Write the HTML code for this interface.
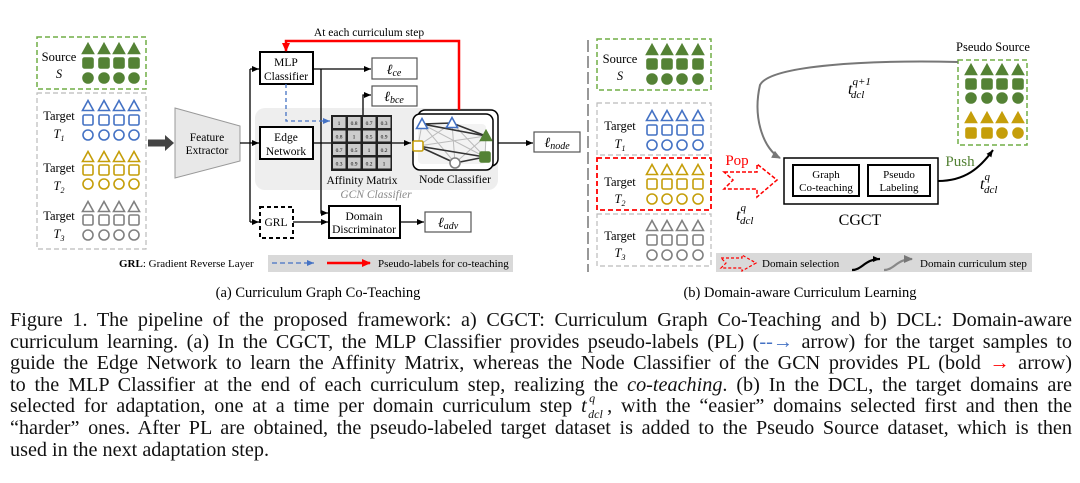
<!DOCTYPE html>
<html><head><meta charset="utf-8"><style>
body{margin:0;background:#fff;width:1080px;height:483px;overflow:hidden;position:relative}
svg{position:absolute;left:0;top:0}
.cap{position:absolute;left:10px;width:1062px;font-family:"Liberation Serif",serif;font-size:20.2px;color:#111;line-height:21.6px;top:310px}
.cap div{text-align:justify;text-align-last:justify;white-space:nowrap;height:21.6px;overflow:visible}
.cap div.last{text-align-last:left}
.tq{display:inline-block;position:relative;width:26px;height:10px;font-style:italic}
.tq b{font-weight:normal;position:absolute;left:0;top:-6px}
.tq i{position:absolute;left:8px;top:-14px;font-size:12px}
.tq u{text-decoration:none;position:absolute;left:7px;top:2px;font-size:12px}
</style></head><body>
<svg id="s" width="1080" height="310" font-family="Liberation Serif, serif">
<defs>
<marker id="a" markerWidth="8" markerHeight="8" refX="7" refY="4" orient="auto" markerUnits="userSpaceOnUse"><path d="M0,1 L7,4 L0,7z" fill="#000"/></marker>
<marker id="ab" markerWidth="8" markerHeight="8" refX="7" refY="4" orient="auto" markerUnits="userSpaceOnUse"><path d="M0,1 L7,4 L0,7z" fill="#4472c4"/></marker>
<marker id="ar" markerWidth="10" markerHeight="10" refX="8" refY="5" orient="auto" markerUnits="userSpaceOnUse"><path d="M0,1 L9,5 L0,9z" fill="#f00"/></marker>
<marker id="ag" markerWidth="10" markerHeight="10" refX="8" refY="5" orient="auto" markerUnits="userSpaceOnUse"><path d="M0,1 L9,5 L0,9z" fill="#777"/></marker>
</defs>
<g id="g"></g>
<rect x="37" y="37" width="109" height="52" fill="none" stroke="#70ad47" stroke-width="1.5" stroke-dasharray="5,3"/>
<rect x="37" y="93" width="109" height="156" fill="none" stroke="#bbb" stroke-width="1.2" stroke-dasharray="5,3"/>
<g font-size="12.5" text-anchor="middle">
<text x="59" y="61">Source</text><text x="59" y="78" font-style="italic">S</text>
<text x="59" y="120">Target</text><text x="59" y="138" font-style="italic">T<tspan font-size="8" dy="3">1</tspan></text>
<text x="59" y="172">Target</text><text x="59" y="190" font-style="italic">T<tspan font-size="8" dy="3">2</tspan></text>
<text x="59" y="220">Target</text><text x="59" y="238" font-style="italic">T<tspan font-size="8" dy="3">3</tspan></text>
</g>
<path d="M148,143 H166" stroke="#444" stroke-width="7"/><path d="M165,135 L174,143 L165,151z" fill="#444"/>
<path d="M175,108 L240,126 L240,161 L175,178z" fill="#e8e8e8" stroke="#999"/>
<text x="207" y="141" font-size="11.5" text-anchor="middle">Feature</text>
<text x="207" y="154" font-size="11.5" text-anchor="middle">Extractor</text>
<rect x="255" y="108" width="243" height="82" rx="10" fill="#eee"/>
<g stroke="#000" stroke-width="1.3" fill="none">
<path d="M240,143 H250 M250,69 V222"/>
<path d="M250,69 H259" marker-end="url(#a)"/><path d="M250,143 H259" marker-end="url(#a)"/><path d="M250,222 H259" marker-end="url(#a)"/>
<path d="M313,69 H371" marker-end="url(#a)"/>
<path d="M321,69 V213 H328" marker-end="url(#a)"/>
<path d="M363,118 V95 H371" marker-end="url(#a)"/>
<path d="M313,143 H331"/>
<path d="M392,143 H411" marker-end="url(#a)"/>
<path d="M497,143 H533" marker-end="url(#a)"/>
<path d="M293,222 H328" marker-end="url(#a)"/>
<path d="M400,222 H424" marker-end="url(#a)"/>
</g>
<g fill="#fff" stroke="#000" stroke-width="2">
<rect x="260" y="52" width="53" height="32"/>
<rect x="260" y="127" width="53" height="32"/>
<rect x="329" y="206" width="71" height="32"/>
</g>
<rect x="260" y="207" width="33" height="31" fill="#fff" stroke="#000" stroke-width="2" stroke-dasharray="4,3"/>
<g fill="#fff" stroke="#555" stroke-width="1.2">
<rect x="372" y="58" width="45" height="21"/><rect x="372" y="86" width="45" height="20"/>
<rect x="425" y="212" width="46" height="20"/><rect x="534" y="132" width="46" height="20"/>
</g>
<g font-size="11.5" text-anchor="middle">
<text x="286" y="66">MLP</text><text x="286" y="80">Classifier</text>
<text x="286" y="141">Edge</text><text x="286" y="155">Network</text>
<text x="276" y="226">GRL</text>
<text x="364" y="220">Domain</text><text x="364" y="233">Discriminator</text>
<text x="369" y="36">At each curriculum step</text>
<text x="362" y="184">Affinity Matrix</text><text x="455" y="183">Node Classifier</text>
<text x="376" y="198" font-style="italic" fill="#888">GCN Classifier</text>
</g>
<g font-size="14" font-style="italic" text-anchor="middle">
<text x="394" y="74">ℓ<tspan font-size="10" dy="2">ce</tspan></text>
<text x="394" y="101">ℓ<tspan font-size="10" dy="2">bce</tspan></text>
<text x="448" y="227">ℓ<tspan font-size="10" dy="2">adv</tspan></text>
<text x="557" y="147">ℓ<tspan font-size="10" dy="2">node</tspan></text>
</g>
<g id="mat"></g>
<path d="M286,84 V121 H330" stroke="#4472c4" stroke-width="1.3" fill="none" stroke-dasharray="4,3" marker-end="url(#ab)"/>
<rect x="418" y="110" width="80" height="56" rx="7" fill="#fff" stroke="#000" stroke-width="1.5"/>
<rect x="413" y="114" width="80" height="56" rx="7" fill="#fff" stroke="#000" stroke-width="1.5"/>
<rect x="418" y="124" width="68" height="40" rx="4" fill="#f3f3f3"/>
<g stroke="#999" stroke-width="1" id="edges"></g>
<g id="nodes"></g>
<path d="M459,110 V41 H286 V51" stroke="#f00" stroke-width="2.5" fill="none" marker-end="url(#ar)"/>
<text x="119" y="267" font-size="11"><tspan font-weight="bold">GRL</tspan>: Gradient Reverse Layer</text>
<rect x="268" y="255" width="245" height="17" fill="#d9d9d9"/>
<path d="M272,263 H314" stroke="#4472c4" stroke-width="1.3" stroke-dasharray="5,3" marker-end="url(#ab)"/>
<path d="M327,263 H370" stroke="#f00" stroke-width="2.5" marker-end="url(#ar)"/>
<text x="378" y="267" font-size="11">Pseudo-labels for co-teaching</text>
<text x="318" y="297" font-size="14.5" text-anchor="middle">(a) Curriculum Graph Co-Teaching</text>
<path d="M588,40 V272" stroke="#777" stroke-width="1.5" stroke-dasharray="12,4"/>
<rect x="597" y="39" width="114" height="51" fill="none" stroke="#70ad47" stroke-width="1.5" stroke-dasharray="5,3"/>
<rect x="597" y="103" width="114" height="52" fill="none" stroke="#bbb" stroke-width="1.2" stroke-dasharray="5,3"/>
<rect x="597" y="158" width="114" height="52" fill="none" stroke="#f00" stroke-width="1.8" stroke-dasharray="5,3"/>
<rect x="597" y="214" width="114" height="52" fill="none" stroke="#bbb" stroke-width="1.2" stroke-dasharray="5,3"/>
<rect x="958" y="60" width="69" height="85" fill="none" stroke="#70ad47" stroke-width="1.5" stroke-dasharray="5,3"/>
<g font-size="12.5" text-anchor="middle">
<text x="620" y="63">Source</text><text x="620" y="80" font-style="italic">S</text>
<text x="620" y="130">Target</text><text x="620" y="148" font-style="italic">T<tspan font-size="8" dy="3">1</tspan></text>
<text x="620" y="186">Target</text><text x="620" y="203" font-style="italic">T<tspan font-size="8" dy="3">2</tspan></text>
<text x="620" y="240">Target</text><text x="620" y="257" font-style="italic">T<tspan font-size="8" dy="3">3</tspan></text>
<text x="993" y="51">Pseudo Source</text>
</g>
<path d="M724,172 H757 V164 L777,180 L757,197 V189 H724 L733,180z" fill="none" stroke="#f00" stroke-width="1.5" stroke-dasharray="4,2"/>
<text x="737" y="165" font-size="15" fill="#f00" text-anchor="middle">Pop</text>
<text x="960" y="166" font-size="15" fill="#548235" text-anchor="middle">Push</text>
<rect x="784" y="158" width="154" height="46" fill="#fff" stroke="#000" stroke-width="1.5"/>
<rect x="793" y="165" width="66" height="31" fill="none" stroke="#000" stroke-width="2"/>
<rect x="868" y="165" width="62" height="31" fill="none" stroke="#000" stroke-width="2"/>
<g font-size="11" text-anchor="middle">
<text x="826" y="178">Graph</text><text x="826" y="191">Co-teaching</text>
<text x="899" y="178">Pseudo</text><text x="899" y="191">Labeling</text>
</g>
<text x="860" y="225" font-size="16" text-anchor="middle">CGCT</text>
<path d="M938,181 C965,181 980,168 993,150" stroke="#000" stroke-width="2" fill="none" marker-end="url(#a)"/>
<path d="M958,62 C870,60 770,65 760,85 C752,120 765,150 780,158" stroke="#777" stroke-width="2" fill="none" marker-end="url(#ag)"/>
<g font-size="16" font-style="italic">
<text x="736" y="220">t<tspan font-size="11" dy="-9">q</tspan><tspan font-size="11" dx="-6" dy="13">dcl</tspan></text>
<text x="848" y="94">t<tspan font-size="11" dy="-9">q+1</tspan><tspan font-size="11" dx="-20" dy="13">dcl</tspan></text>
<text x="980" y="189">t<tspan font-size="11" dy="-9">q</tspan><tspan font-size="11" dx="-6" dy="13">dcl</tspan></text>
</g>
<rect x="716" y="253" width="316" height="19" fill="#d9d9d9"/>
<path d="M721,258 H742 V255 L756,263 L742,271 V268 H721 L726,263z" fill="none" stroke="#f00" stroke-width="1.2" stroke-dasharray="3,2"/>
<text x="762" y="267" font-size="11">Domain selection</text>
<path d="M852,270 C862,270 865,259 880,259" stroke="#000" stroke-width="2.2" fill="none" marker-end="url(#a)"/>
<path d="M884,270 C894,270 897,259 912,259" stroke="#888" stroke-width="2.2" fill="none" marker-end="url(#ag)"/>
<text x="920" y="267" font-size="11">Domain curriculum step</text>
<text x="800" y="297" font-size="14.5" text-anchor="middle">(b) Domain-aware Curriculum Learning</text>
</svg>
<div class="cap">
<div>Figure 1. The pipeline of the proposed framework: a) CGCT: Curriculum Graph Co-Teaching and b) DCL: Domain-aware</div>
<div>curriculum learning. (a) In the CGCT, the MLP Classifier provides pseudo-labels (PL) (<span style="color:#4472c4">--→</span> arrow) for the target samples to</div>
<div>guide the Edge Network to learn the Affinity Matrix, whereas the Node Classifier of the GCN provides PL (bold <span style="color:#f00">→</span> arrow)</div>
<div>to the MLP Classifier at the end of each curriculum step, realizing the <i>co-teaching</i>. (b) In the DCL, the target domains are</div>
<div>selected for adaptation, one at a time per domain curriculum step <span class="tq"><b>t</b><i>q</i><u>dcl</u></span>, with the “easier” domains selected first and then the</div>
<div>“harder” ones. After PL are obtained, the pseudo-labeled target dataset is added to the Pseudo Source dataset, which is then</div>
<div class="last">used in the next adaptation step.</div>
</div>
<script>
const NS="http://www.w3.org/2000/svg",g=document.getElementById('g');
function el(t,a,p){const e=document.createElementNS(NS,t);for(const k in a)e.setAttribute(k,a[k]);(p||g).appendChild(e);return e}
function tri(x,y,c,f,p){el('path',{d:`M${x},${y-5.5} L${x+5.5},${y+4.5} L${x-5.5},${y+4.5}z`,fill:f?c:'#fff',stroke:c,'stroke-width':1.6},p)}
function sq(x,y,c,f,p){el('rect',{x:x-5,y:y-5,width:10,height:10,rx:1.5,fill:f?c:'#fff',stroke:c,'stroke-width':1.6},p)}
function ci(x,y,c,f,p){el('circle',{cx:x,cy:y,r:5,fill:f?c:'#fff',stroke:c,'stroke-width':1.6},p)}
const G='#548235',B='#4472c4',Y='#c59e0a',R='#808080';
function block(xs,ys,c,f){xs.forEach(x=>{tri(x,ys[0],c,f);sq(x,ys[1],c,f);ci(x,ys[2],c,f)})}
const L=[88,104,119,134];
block(L,[49,63,78],G,1);block(L,[106,120,135],B,0);block(L,[157,170,184],Y,0);block(L,[207,220,235],R,0);
const Rx=[652,667,682,698];
block(Rx,[50,64,79],G,1);block(Rx,[116,130,145],B,0);block(Rx,[170,184,199],Y,0);block(Rx,[226,240,255],R,0);
const P=[971,987,1002,1018];
block(P,[70,84,98],G,1);
P.forEach((x,i)=>{tri(x,118,Y,1);if(i<2)sq(x,133,Y,1);else ci(x,133,Y,1)});
const m=document.getElementById('mat');
el('rect',{x:331,y:115,width:61,height:56,fill:'#222'},m);
const v=[[1,0.8,0.7,0.3],[0.8,1,0.5,0.9],[0.7,0.5,1,0.2],[0.3,0.9,0.2,1]];
for(let i=0;i<4;i++)for(let j=0;j<4;j++){el('rect',{x:333+j*15,y:117+i*13.5,width:12.5,height:11,fill:'#ccc'},m);
const t=el('text',{x:339+j*15,y:125+i*13.5,'font-size':5.5,'text-anchor':'middle'},m);t.textContent=v[i][j];}
const ed=document.getElementById('edges'),N=[[422,124],[452,123],[486,136],[418,146],[485,157],[455,163]];
for(let i=0;i<6;i++)for(let j=i+1;j<6;j++)el('line',{x1:N[i][0],y1:N[i][1],x2:N[j][0],y2:N[j][1],stroke:'#bbb'},ed);
[[0,1],[1,2],[0,2],[3,4],[5,4],[3,5]].forEach(([i,j])=>el('line',{x1:N[i][0],y1:N[i][1],x2:N[j][0],y2:N[j][1],stroke:'#333','stroke-width':1.6},ed));
const nd=document.getElementById('nodes');
tri(422,124,B,0,nd);tri(452,123,B,0,nd);sq(418,146,Y,0,nd);ci(455,163,R,0,nd);
tri(486,136,G,1,nd);sq(485,157,G,1,nd);
</script>
</body></html>
